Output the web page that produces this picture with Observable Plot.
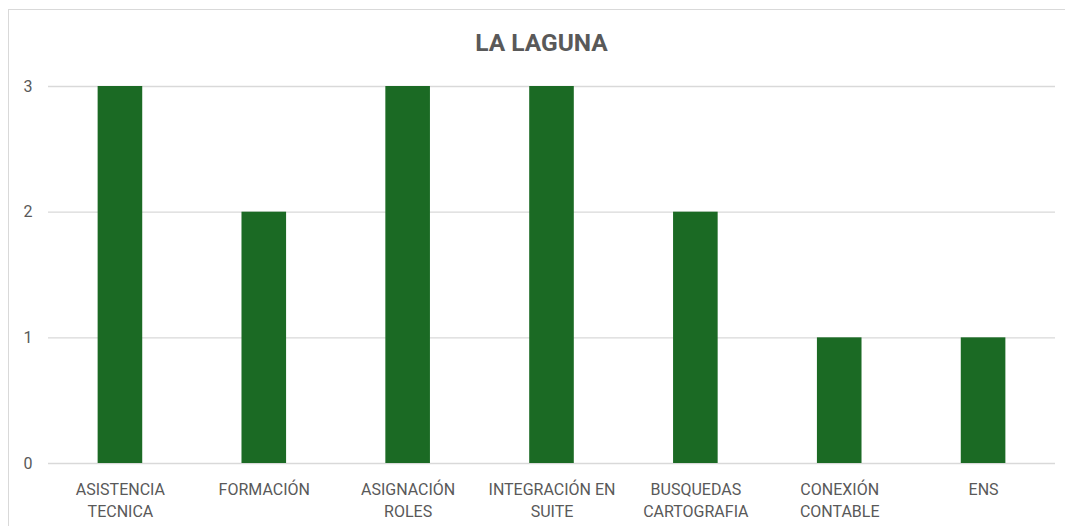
<!DOCTYPE html>
<html>
<head>
<meta charset="utf-8">
<script src="https://cdn.jsdelivr.net/npm/d3@7"></script>
<script src="https://cdn.jsdelivr.net/npm/@observablehq/plot@0.6"></script>
<style>
  html, body { margin: 0; padding: 0; background: #fff; }
  body { width: 1065px; height: 526px; overflow: hidden; font-family: Roboto, "Open Sans", sans-serif; }
  #frame { position: absolute; left: 8px; top: 9px; width: 1057px; height: 517px;
           border-top: 1px solid #d9d9d9; border-left: 1px solid #d9d9d9; }
  #title { height: 45px; padding-top: 19px; box-sizing: border-box; line-height: 28px; text-align: center;
           font-size: 24.5px; font-weight: bold; color: #595959; margin-left: 8px; }
  #chart svg { display: block; }
</style>
</head>
<body>
<div id="frame">
  <div id="title">LA LAGUNA</div>
  <div id="chart"></div>
</div>
<script>
const categories = ["ASISTENCIA TECNICA", "FORMACIÓN", "ASIGNACIÓN ROLES", "INTEGRACIÓN EN SUITE", "BUSQUEDAS CARTOGRAFIA", "CONEXIÓN CONTABLE", "ENS"];
const tickLabels = ["ASISTENCIA\nTECNICA", "FORMACIÓN", "ASIGNACIÓN\nROLES", "INTEGRACIÓN EN\nSUITE", "BUSQUEDAS\nCARTOGRAFIA", "CONEXIÓN\nCONTABLE", "ENS"];
const values = [3, 2, 3, 3, 2, 1, 1];
const yTicks = [0, 1, 2, 3];

const data = categories.map((c, i) => ({category: c, value: values[i]}));
const labelOf = new Map(categories.map((c, i) => [c, tickLabels[i]]));

const chart = Plot.plot({
  width: 1056,
  height: 471,
  marginLeft: 39,
  marginRight: 10,
  marginTop: 31,
  marginBottom: 63,
  style: { fontFamily: "Roboto, 'Open Sans', sans-serif", color: "#595959", background: "#fff" },
  x: { domain: categories, paddingInner: 0.69, paddingOuter: 0.345, round: false, label: null },
  y: { domain: [0, 3], label: null },
  marks: [
    Plot.gridY(yTicks, { stroke: "#d9d9d9", strokeOpacity: 1, strokeWidth: 1.3 }),
    Plot.barY(data, { x: "category", y: "value", fill: "#1b6a24" }),
    Plot.axisY(yTicks, { tickSize: 0, tickPadding: 16, fontSize: 16, fill: "#595959", label: null,
                         tickFormat: d3.format("d") }),
    Plot.axisX({ tickSize: 0, tickPadding: 16, fontSize: 16, lineHeight: 1.37, fill: "#595959",
                 tickFormat: d => labelOf.get(d), label: null })
  ]
});
document.getElementById("chart").appendChild(chart);
</script>
</body>
</html>
